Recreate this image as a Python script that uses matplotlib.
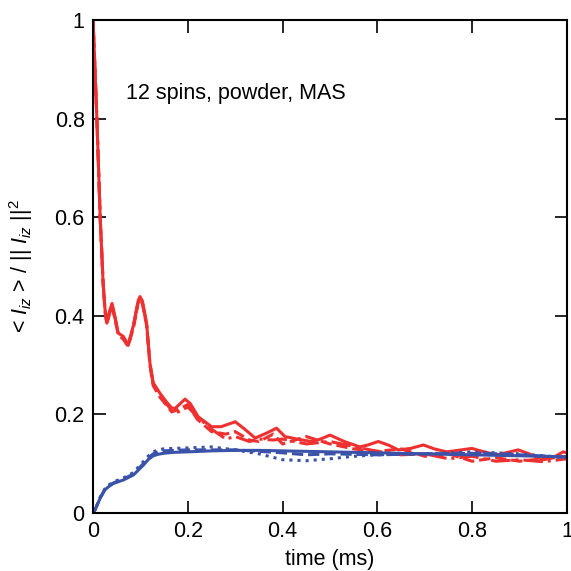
import matplotlib
matplotlib.use('Agg')
import matplotlib.pyplot as plt

plt.rcParams['font.family'] = ['Liberation Sans', 'DejaVu Sans']
plt.rcParams['mathtext.fontset'] = 'custom'
plt.rcParams['mathtext.rm'] = 'Liberation Sans'
plt.rcParams['mathtext.it'] = 'Liberation Sans:italic'

RED = '#ee3030'
BLUE = '#3a52a8'

# red curves (<Iz> of initially polarised spin)
t_red = [0, 0.008, 0.015, 0.021, 0.025, 0.029, 0.035, 0.040, 0.047, 0.053, 0.064, 0.074, 0.085,
         0.095, 0.099, 0.104, 0.113, 0.120, 0.127, 0.141, 0.155, 0.166, 0.173, 0.184, 0.194,
         0.205, 0.222, 0.250, 0.270, 0.285, 0.300, 0.320, 0.342, 0.366, 0.387, 0.405, 0.430,
         0.460, 0.480, 0.500, 0.530, 0.563, 0.580, 0.602, 0.625, 0.644, 0.670, 0.697, 0.720,
         0.746, 0.770, 0.799, 0.825, 0.852, 0.875, 0.897, 0.920, 0.950, 0.970, 0.992, 1.0]
red_solid = [1.0, 0.80, 0.60, 0.47, 0.415, 0.388, 0.41, 0.425, 0.395, 0.365, 0.358, 0.341, 0.38,
             0.43, 0.439, 0.43, 0.385, 0.304, 0.264, 0.243, 0.225, 0.213, 0.212, 0.222, 0.231,
             0.222, 0.195, 0.175, 0.175, 0.180, 0.185, 0.170, 0.152, 0.162, 0.172, 0.155, 0.150,
             0.145, 0.150, 0.158, 0.145, 0.134, 0.138, 0.145, 0.137, 0.128, 0.131, 0.138, 0.130,
             0.124, 0.127, 0.131, 0.124, 0.118, 0.123, 0.128, 0.120, 0.108, 0.112, 0.124, 0.122]

t_red2 = [0, 0.008, 0.015, 0.021, 0.025, 0.029, 0.035, 0.040, 0.047, 0.053, 0.064, 0.074, 0.085,
          0.095, 0.099, 0.104, 0.113, 0.120, 0.127, 0.141, 0.166, 0.180, 0.200, 0.220, 0.250,
          0.280, 0.300, 0.330, 0.350, 0.380, 0.400, 0.450, 0.500, 0.550, 0.600, 0.650, 0.700,
          0.750, 0.800, 0.850, 0.900, 0.950, 1.0]
red_dash = [1.0, 0.80, 0.60, 0.47, 0.41, 0.383, 0.405, 0.42, 0.39, 0.362, 0.352, 0.338, 0.375,
            0.425, 0.435, 0.425, 0.38, 0.30, 0.258, 0.235, 0.205, 0.21, 0.22, 0.19, 0.165,
            0.16, 0.165, 0.148, 0.145, 0.16, 0.14, 0.155, 0.14, 0.13, 0.125, 0.13, 0.115,
            0.12, 0.105, 0.112, 0.105, 0.11, 0.115]
red_dashdot = [1.0, 0.80, 0.60, 0.47, 0.412, 0.385, 0.408, 0.422, 0.392, 0.363, 0.355, 0.34, 0.378,
               0.428, 0.437, 0.428, 0.382, 0.302, 0.26, 0.238, 0.208, 0.205, 0.215, 0.195, 0.17,
               0.15, 0.155, 0.145, 0.15, 0.148, 0.15, 0.14, 0.145, 0.135, 0.125, 0.118, 0.12,
               0.11, 0.115, 0.105, 0.108, 0.104, 0.11]

# blue curves (<Iz> of neighbouring spins)
t_blue = [0, 0.004, 0.015, 0.025, 0.035, 0.043, 0.064, 0.085, 0.106, 0.117, 0.127, 0.137, 0.148,
          0.170, 0.200, 0.250, 0.300, 0.350, 0.400, 0.450, 0.500, 0.550, 0.600, 0.700, 0.800,
          0.850, 0.900, 1.0]
blue_solid = [0, 0.006, 0.030, 0.047, 0.055, 0.060, 0.067, 0.077, 0.097, 0.109, 0.116, 0.119, 0.121,
              0.123, 0.124, 0.126, 0.127, 0.127, 0.126, 0.125, 0.124, 0.123, 0.122, 0.120, 0.118,
              0.117, 0.116, 0.114]
blue_dash = [0, 0.006, 0.031, 0.048, 0.056, 0.061, 0.069, 0.079, 0.100, 0.112, 0.120, 0.124, 0.126,
             0.127, 0.128, 0.128, 0.128, 0.125, 0.122, 0.118, 0.120, 0.119, 0.118, 0.120, 0.121,
             0.120, 0.118, 0.113]
blue_dot = [0, 0.006, 0.032, 0.049, 0.058, 0.063, 0.071, 0.082, 0.104, 0.116, 0.124, 0.128, 0.130,
            0.131, 0.132, 0.134, 0.128, 0.120, 0.108, 0.106, 0.110, 0.115, 0.118, 0.120, 0.124,
            0.122, 0.120, 0.112]

fig = plt.figure(figsize=(5.71, 5.71), dpi=100)
ax = fig.add_axes([0.163, 0.1016, 0.830, 0.8634])

lw = 2.2
ax.plot(t_red2, red_dashdot, color=RED, lw=lw, ls='-.')
ax.plot(t_red2, red_dash, color=RED, lw=lw, ls='--')
ax.plot(t_red, red_solid, color=RED, lw=lw)
ax.plot(t_blue, blue_dot, color=BLUE, lw=lw, ls=':')
ax.plot(t_blue, blue_dash, color=BLUE, lw=lw, ls='--')
ax.plot(t_blue, blue_solid, color=BLUE, lw=lw)

ax.set_xlim(0, 1)
ax.set_ylim(0, 1)
ticks = [0, 0.2, 0.4, 0.6, 0.8, 1]
labels = ['0', '0.2', '0.4', '0.6', '0.8', '1']
ax.set_xticks(ticks, labels)
ax.set_yticks(ticks, labels)
ax.tick_params(direction='in', top=True, right=True, length=9, width=1.2,
               labelsize=15.5, pad=6)
for s in ax.spines.values():
    s.set_linewidth(1.5)

ax.set_xlabel('time (ms)', fontsize=15.5, labelpad=5)
ax.set_ylabel(r'< $I_{iz}$ > / || $I_{iz}$ ||$^2$', fontsize=15.5, labelpad=14)
ax.text(0.07, 0.84, '12 spins, powder, MAS', fontsize=15.5, transform=ax.transAxes)

fig.savefig('out.png', dpi=100)
